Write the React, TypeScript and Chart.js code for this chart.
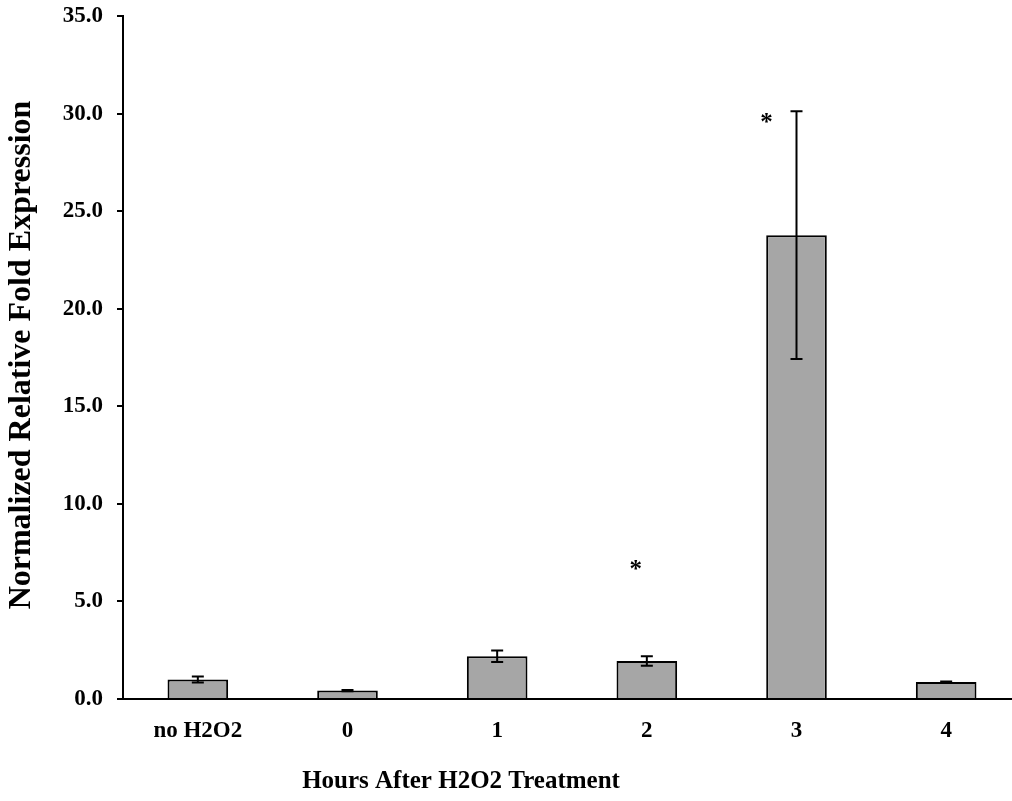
import React, { useEffect, useRef } from "react";
import { Chart, registerables } from "chart.js";

Chart.register(...registerables);

const categories = ["no H2O2", "0", "1", "2", "3", "4"];
const values = [1.0, 0.43, 2.19, 1.95, 23.77, 0.87];
const errors = [0.15, 0.03, 0.3, 0.24, 6.35, 0.03];
const starValues: (number | null)[] = [null, null, null, 6.9, 29.8, null];
const yTicks = [0, 5, 10, 15, 20, 25, 30, 35];
const xTitle = "Hours After H2O2 Treatment";
const yTitle = "Normalized Relative Fold Expression";

const FONT = "'Liberation Serif', 'Times New Roman', serif";

const overlayPlugin = {
  id: "overlay",
  afterDatasetsDraw(chart: any) {
    const ctx = chart.ctx;
    const xs = chart.scales.x;
    const ys = chart.scales.y;
    ctx.save();
    ctx.strokeStyle = "#000";
    ctx.lineWidth = 2;
    values.forEach((v, i) => {
      const x = xs.getPixelForValue(i);
      const yt = ys.getPixelForValue(v + errors[i]);
      const yb = ys.getPixelForValue(v - errors[i]);
      ctx.beginPath();
      ctx.moveTo(x, yt);
      ctx.lineTo(x, yb);
      ctx.moveTo(x - 6, yt);
      ctx.lineTo(x + 6, yt);
      ctx.moveTo(x - 6, yb);
      ctx.lineTo(x + 6, yb);
      ctx.stroke();
    });
    ctx.fillStyle = "#000";
    ctx.font = `bold 25px ${FONT}`;
    ctx.textAlign = "center";
    ctx.textBaseline = "middle";
    starValues.forEach((s, i) => {
      if (s == null) return;
      const x = xs.getPixelForValue(i) - (i === 4 ? 30 : 11);
      const y = ys.getPixelForValue(s);
      ctx.fillText("*", x, y + 6);
    });
    // axis titles
    ctx.font = `bold 25px ${FONT}`;
    ctx.textBaseline = "alphabetic";
    ctx.fillText(xTitle, 461, 788);
    ctx.save();
    ctx.font = `bold 32px ${FONT}`;
    ctx.translate(30, 355);
    ctx.rotate(-Math.PI / 2);
    ctx.fillText(yTitle, 0, 0);
    ctx.restore();
    ctx.restore();
  },
};

export default function App() {
  const ref = useRef<HTMLCanvasElement>(null);
  useEffect(() => {
    if (!ref.current) return;
    const chart = new Chart(ref.current, {
      type: "bar",
      data: {
        labels: categories,
        datasets: [
          {
            data: values,
            backgroundColor: "#a6a6a6",
            borderColor: "#000",
            borderWidth: 2,
            barPercentage: 0.405,
            categoryPercentage: 1,
          },
        ],
      },
      options: {
        animation: false,
        responsive: false,
        devicePixelRatio: 1,
        layout: { padding: { top: 16, right: 9, bottom: 0, left: 0 } },
        plugins: {
          legend: { display: false },
          tooltip: { enabled: false },
        },
        scales: {
          x: {
            grid: { display: false, drawTicks: false },
            border: { display: true, color: "#000", width: 2 },
            ticks: {
              color: "#000",
              font: { family: FONT, size: 23, weight: "bold" },
              padding: 18,
            },
            afterFit(scale: any) {
              scale.height = 102;
              scale.paddingLeft = 0;
              scale.paddingRight = 0;
            },
          },
          y: {
            min: 0,
            max: 35,
            afterBuildTicks(scale: any) {
              scale.ticks = yTicks.map((v) => ({ value: v }));
            },
            grid: {
              drawOnChartArea: false,
              drawTicks: true,
              tickLength: 6,
              color: "#000",
              lineWidth: 2,
            },
            border: { display: true, color: "#000", width: 2 },
            ticks: {
              color: "#000",
              font: { family: FONT, size: 23, weight: "bold" },
              padding: 14,
              callback: (v: any) => Number(v).toFixed(1),
            },
            afterFit(scale: any) {
              scale.width = 123;
              scale.paddingTop = 0;
              scale.paddingBottom = 0;
            },
          },
        },
      },
      plugins: [overlayPlugin],
    });
    return () => chart.destroy();
  }, []);
  return (
    <div
      style={{
        position: "fixed",
        left: 0,
        top: 0,
        width: 1012,
        height: 801,
        overflow: "hidden",
        background: "#fff",
      }}
    >
      <canvas ref={ref} width={1030} height={801} style={{ display: "block" }} />
    </div>
  );
}
